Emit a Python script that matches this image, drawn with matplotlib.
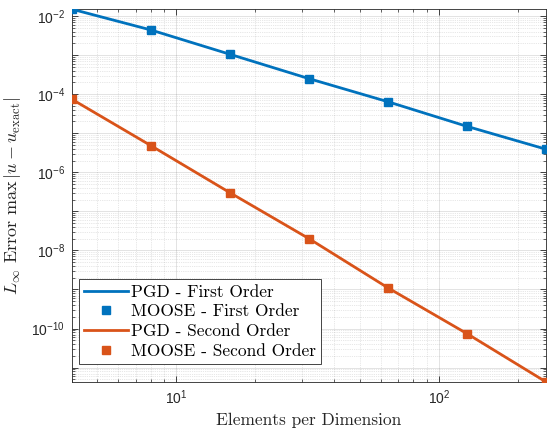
import numpy as np
import matplotlib
matplotlib.use("Agg")
import matplotlib.pyplot as plt
from matplotlib.lines import Line2D
from matplotlib.ticker import LogLocator, NullFormatter

# data
elements = [4, 8, 16, 32, 64, 128, 256]
pgd_first = [1.5e-2, 4.4e-3, 1.05e-3, 2.5e-4, 6.4e-5, 1.5e-5, 3.9e-6]
moose_first = [1.5e-2, 4.4e-3, 1.05e-3, 2.5e-4, 6.4e-5, 1.5e-5, 3.9e-6]
pgd_second = [7.4e-5, 4.8e-6, 3.0e-7, 2.0e-8, 1.1e-9, 7.4e-11, 4.3e-12]
moose_second = [7.4e-5, 4.8e-6, 3.0e-7, 2.0e-8, 1.1e-9, 7.4e-11, 4.3e-12]

blue = "#0072BD"
orange = "#D95319"
dark = "#262626"

plt.rcParams['font.family'] = ['Liberation Sans', 'DejaVu Sans']
plt.rcParams['axes.unicode_minus'] = False

fig = plt.figure(figsize=(5.51, 4.38), dpi=100)
ax = fig.add_axes([0.1307, 0.128, 0.8603, 0.851])

ax.plot(elements, pgd_first, color=blue, lw=2, zorder=3)
ax.plot(elements, moose_first, 's', color=blue, ms=6, zorder=4)
ax.plot(elements, pgd_second, color=orange, lw=2, zorder=3)
ax.plot(elements, moose_second, 's', color=orange, ms=6, zorder=4)

ax.set_xscale('log')
ax.set_yscale('log')
ax.set_xlim(elements[0], elements[-1])
ax.set_ylim(min(pgd_second), max(pgd_first))

ax.yaxis.set_major_locator(LogLocator(base=10, subs=[1.0], numticks=20))
ax.yaxis.set_major_formatter(matplotlib.ticker.FuncFormatter(
    lambda v, p: r"$\mathdefault{10^{%d}}$" % round(np.log10(v)) if round(np.log10(v)) % 2 == 0 else ""))
ax.yaxis.set_minor_locator(LogLocator(base=10, subs=np.arange(2, 10), numticks=20))
ax.yaxis.set_minor_formatter(NullFormatter())
ax.xaxis.set_minor_formatter(NullFormatter())

ax.grid(True, which='major', color=dark, alpha=0.15, lw=0.6, ls='-')
ax.grid(True, which='minor', color=dark, alpha=0.22, lw=0.5, ls=':')
ax.tick_params(which='both', direction='in', top=True, right=True, colors=dark,
               labelsize=10)
ax.tick_params(which='major', length=4, width=0.6, pad=5)
ax.tick_params(which='minor', length=2, width=0.5)
for s in ax.spines.values():
    s.set_color(dark)
    s.set_linewidth(0.6)

ax.set_xlabel("Elements per Dimension", family='cmr10', fontsize=12.5, color=dark)
ax.set_ylabel(r"$L_\infty$ Error $\max\,|u - u_{\rm exact}|$", family='cmr10',
              math_fontfamily='cm', fontsize=13, color=dark, labelpad=6)

handles = [
    Line2D([], [], color=blue, lw=2),
    Line2D([], [], ls='none', marker='s', color=blue, ms=6),
    Line2D([], [], color=orange, lw=2),
    Line2D([], [], ls='none', marker='s', color=orange, ms=6),
]
labels = ["PGD - First Order", "MOOSE - First Order",
          "PGD - Second Order", "MOOSE - Second Order"]
leg = ax.legend(handles, labels, loc='lower left', bbox_to_anchor=(0.015, 0.048),
                prop={'family': 'cmr10', 'size': 12.5}, fancybox=False,
                framealpha=1, edgecolor=dark, borderpad=0.3, labelspacing=0.25,
                handlelength=2.5, handletextpad=0.2, borderaxespad=0)
leg.get_frame().set_linewidth(0.6)

fig.savefig("out.png", dpi=100)
